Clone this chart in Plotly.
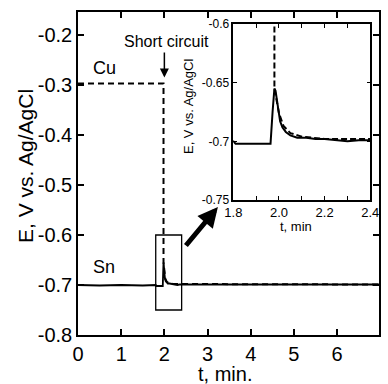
import plotly.graph_objects as go

# ---- data ----
sn_t = [0.0, 0.5, 1.0, 1.5, 1.80, 1.81, 1.85, 1.90, 1.95, 1.963, 1.972, 1.980, 1.985, 1.995,
        2.005, 2.015, 2.03, 2.05, 2.08, 2.12, 2.16, 2.20, 2.25, 2.30, 2.35, 2.40, 3.0, 4.0, 5.0, 6.0, 7.0]
sn_e = [-0.700, -0.701, -0.700, -0.701, -0.700, -0.702, -0.702, -0.702, -0.702, -0.702, -0.675, -0.655,
        -0.657, -0.670, -0.683, -0.688, -0.692, -0.695, -0.697, -0.697, -0.698, -0.698, -0.699, -0.700,
        -0.699, -0.699, -0.699, -0.699, -0.699, -0.699, -0.699]

cu_t = [0.0, 1.98, 1.98, 1.99, 2.00, 2.02, 2.05, 2.10, 2.20, 2.40, 7.0]
cu_e = [-0.297, -0.297, -0.655, -0.665, -0.676, -0.687, -0.693, -0.696, -0.698, -0.698, -0.699]

main_yticks = [-0.8, -0.7, -0.6, -0.5, -0.4, -0.3, -0.2]
main_ytext = ["-0.8", "-0.7", "-0.6", "-0.5", "-0.4", "-0.3", "-0.2"]
main_xticks = [0, 1, 2, 3, 4, 5, 6, 7]
inset_xticks = [1.8, 2.0, 2.2, 2.4]
inset_xtext = ["1.8", "2.0", "2.2", "2.4"]
inset_yticks = [-0.75, -0.7, -0.65, -0.6]
inset_ytext = ["-0.75", "-0.7", "-0.65", "-0.6"]
inset_xrange = [1.8, 2.4]
inset_yrange = [-0.75, -0.6]

FONT = "Liberation Sans, Arial, sans-serif"

fig = go.Figure()
# main
fig.add_trace(go.Scatter(x=cu_t, y=cu_e, mode="lines", line=dict(color="black", width=2, dash="6px,4px"),
                         xaxis="x", yaxis="y", showlegend=False))
fig.add_trace(go.Scatter(x=sn_t, y=sn_e, mode="lines", line=dict(color="black", width=1.8),
                         xaxis="x", yaxis="y", showlegend=False))
# inset
fig.add_trace(go.Scatter(x=cu_t, y=cu_e, mode="lines", line=dict(color="black", width=2, dash="6px,3px"),
                         xaxis="x2", yaxis="y2", showlegend=False))
fig.add_trace(go.Scatter(x=sn_t, y=sn_e, mode="lines", line=dict(color="black", width=2),
                         xaxis="x2", yaxis="y2", showlegend=False))

axis_common = dict(showline=True, linecolor="black", linewidth=1.5, mirror="ticks", ticks="inside",
                   tickcolor="black", showgrid=False, zeroline=False)

fig.update_layout(
    width=388, height=384,
    margin=dict(l=78, r=0, t=12, b=49),
    paper_bgcolor="white", plot_bgcolor="white",
    font=dict(family=FONT, color="black"),
    xaxis=dict(range=[0, 6.97], tickvals=main_xticks, ticklen=6, tickwidth=1.5,
               tickfont=dict(size=20), **axis_common),
    yaxis=dict(range=[-0.8, -0.154], tickvals=main_yticks, ticktext=main_ytext, ticklen=6, tickwidth=1.5,
               tickfont=dict(size=20), **axis_common),
    xaxis2=dict(domain=[0.516, 0.971], anchor="y2", range=inset_xrange, tickvals=inset_xticks,
                ticktext=inset_xtext, ticklen=4, tickwidth=1.2, tickfont=dict(size=13),
                minor=dict(tickvals=[1.9, 2.1, 2.3], ticks="inside", ticklen=4, tickcolor="black", tickwidth=1.2),
                **axis_common),
    yaxis2=dict(domain=[0.418, 0.963], anchor="x2", range=inset_yrange, tickvals=inset_yticks,
                ticktext=inset_ytext, ticklen=4, tickwidth=1.2, tickfont=dict(size=12), **axis_common),
)

fig.add_shape(type="rect", xref="x", yref="y", x0=inset_xrange[0], x1=inset_xrange[1],
              y0=inset_yrange[0], y1=inset_yrange[1], line=dict(color="black", width=1.3))

C = dict(xanchor="center", yanchor="middle")
ann = []
ann.append(dict(text="E, V vs. Ag/AgCl", xref="paper", yref="paper", x=-0.174, y=0.522, textangle=-90,
                showarrow=False, font=dict(size=21), **C))
ann.append(dict(text="t, min.", xref="paper", yref="paper", x=0.49, y=-0.121, showarrow=False,
                font=dict(size=20), **C))
ann.append(dict(text="E, V vs. Ag/AgCl", xref="paper", yref="paper", x=0.369, y=0.706, textangle=-90,
                showarrow=False, font=dict(size=13), **C))
ann.append(dict(text="t, min", xref="paper", yref="paper", x=0.725, y=0.337, showarrow=False,
                font=dict(size=13), **C))
ann.append(dict(text="Cu", xref="x", yref="y", x=0.62, y=-0.266, showarrow=False, font=dict(size=18), **C))
ann.append(dict(text="Sn", xref="x", yref="y", x=0.61, y=-0.664, showarrow=False, font=dict(size=18), **C))
ann.append(dict(text="Short circuit", xref="x", yref="y", x=2.04, y=-0.212, showarrow=False,
                font=dict(size=16), **C))
ann.append(dict(text="", xref="x", yref="y", x=2.0, y=-0.285, axref="x", ayref="y", ax=2.0, ay=-0.232,
                showarrow=True, arrowhead=2, arrowsize=1.2, arrowwidth=1.5, arrowcolor="black"))
ann.append(dict(text="", xref="x", yref="y", x=3.24, y=-0.544, axref="x", ayref="y", ax=2.47, ay=-0.624,
                showarrow=True, arrowhead=2, arrowsize=0.8, arrowwidth=5, arrowcolor="black"))
fig.update_layout(annotations=ann)

fig.write_html("out.html")
